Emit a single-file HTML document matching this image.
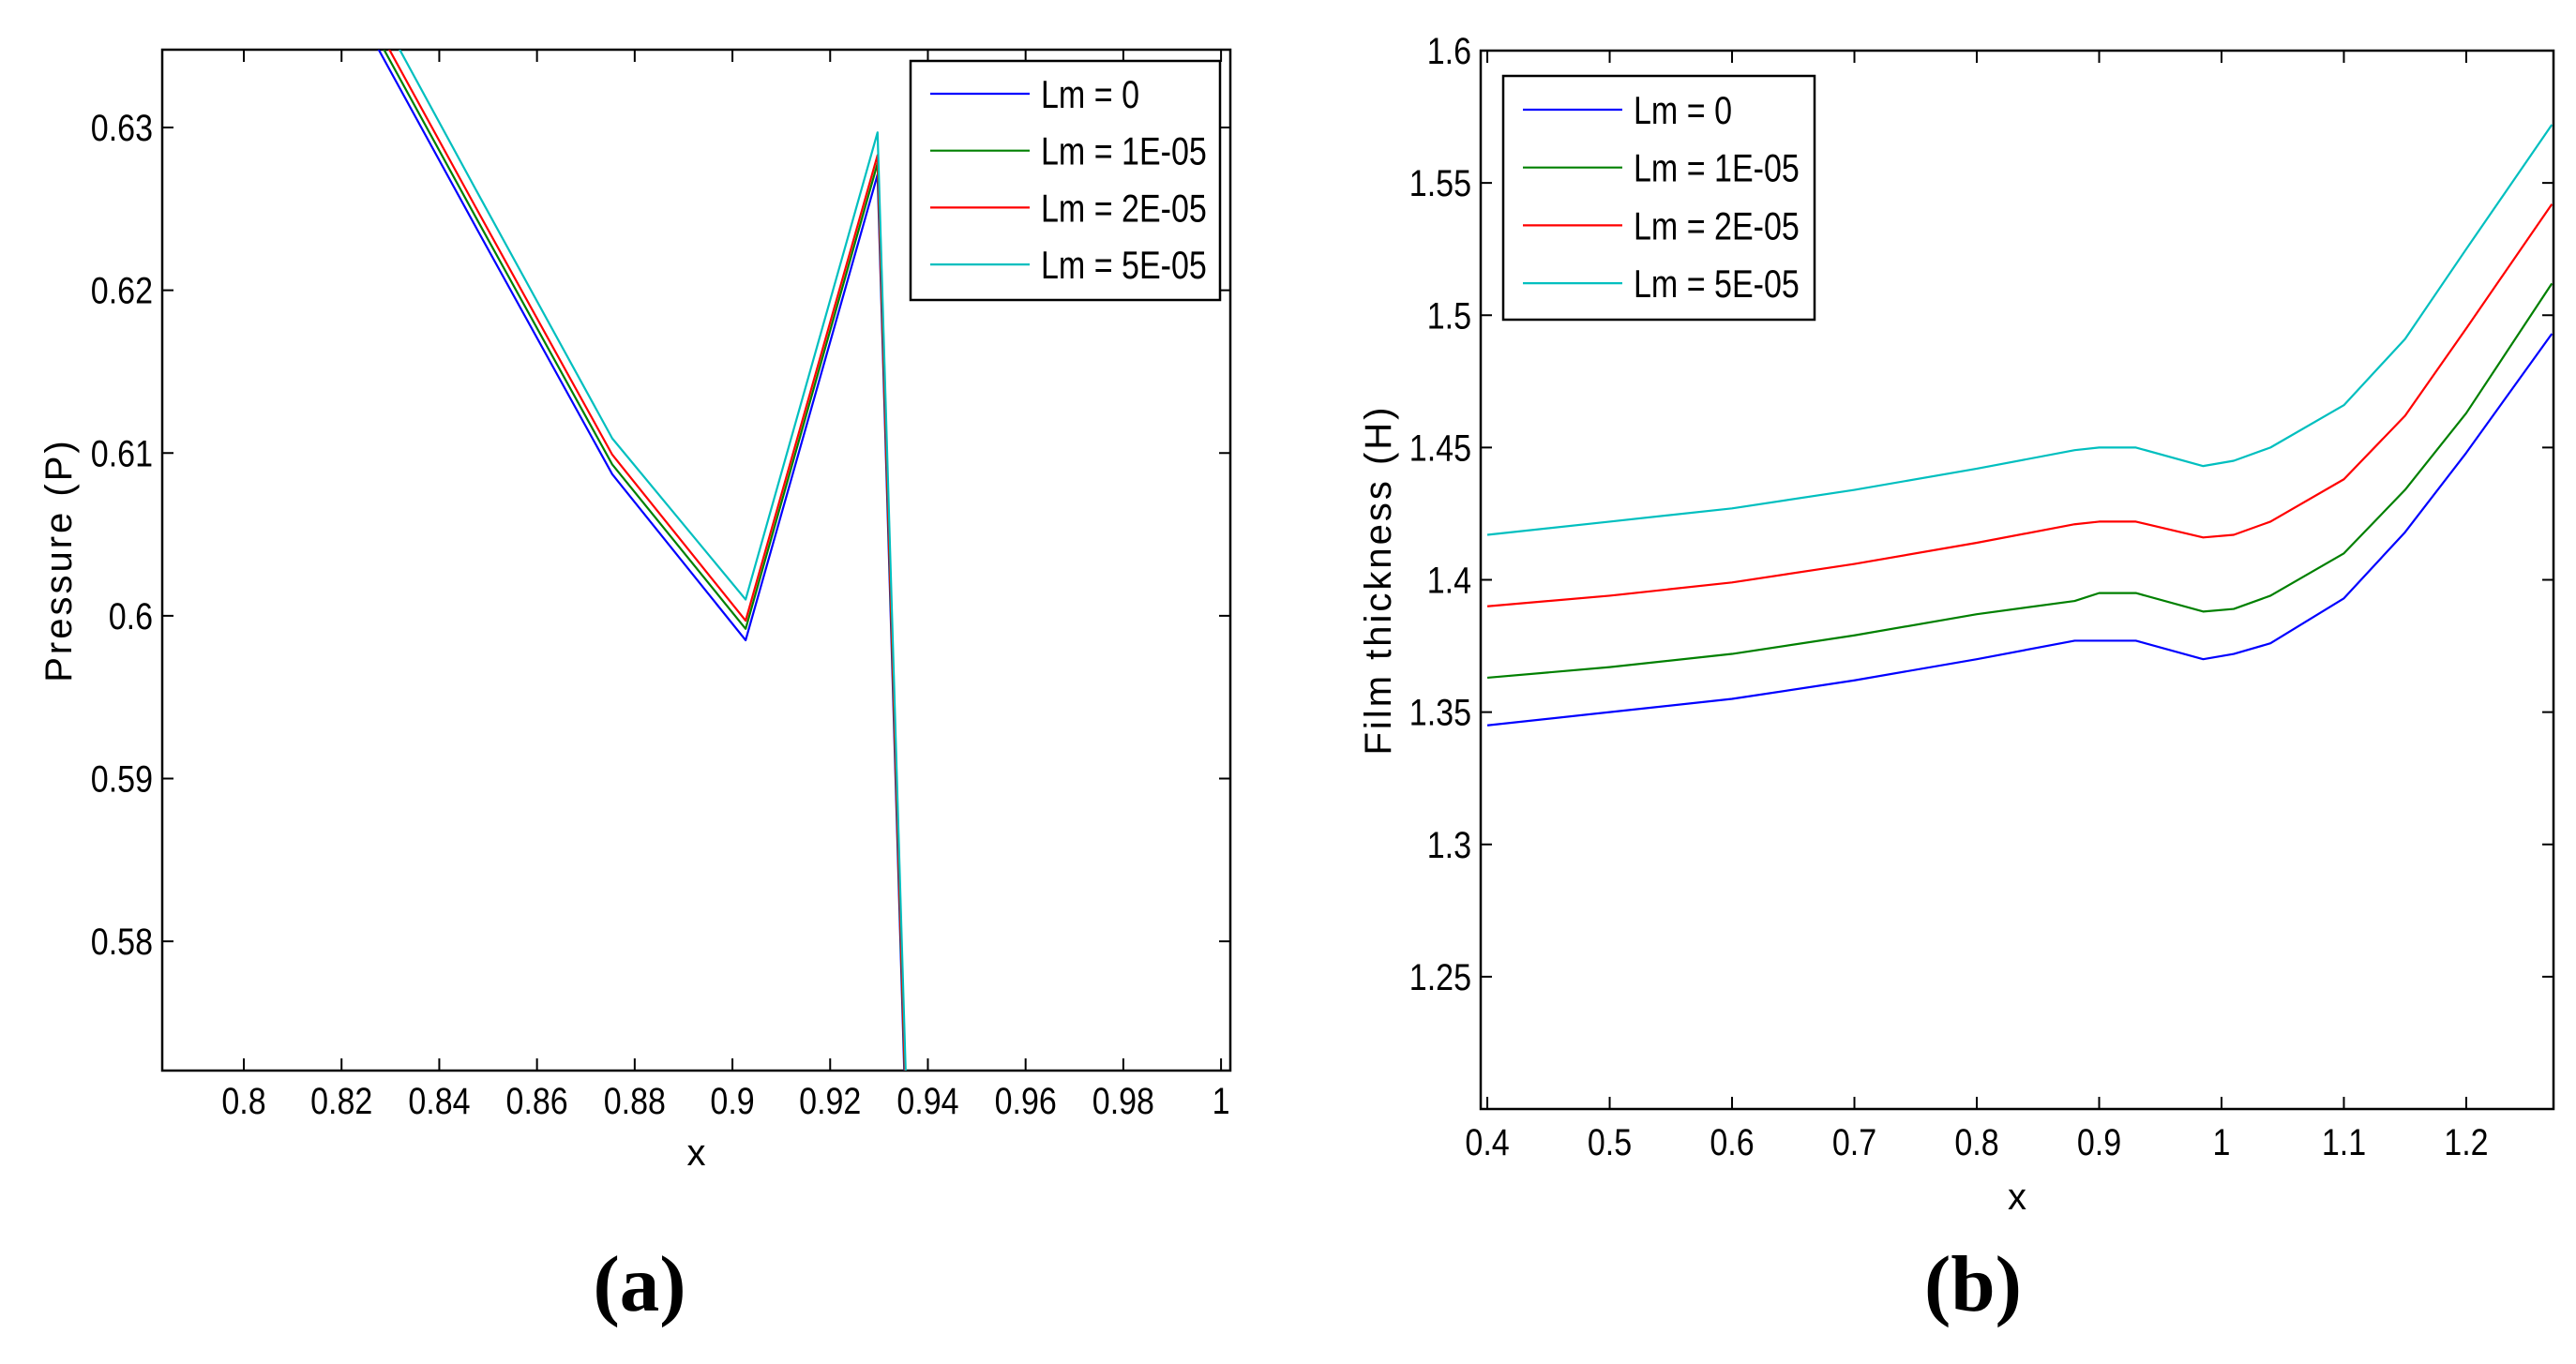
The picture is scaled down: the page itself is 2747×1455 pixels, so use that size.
<!DOCTYPE html>
<html><head><meta charset="utf-8">
<style>
html,body{margin:0;padding:0;background:#fff;overflow:hidden;width:2747px;height:1455px;}
svg{display:block;font-family:"Liberation Sans",sans-serif;}
</style></head>
<body>
<svg id="fig" width="2747" height="1455" viewBox="0 0 2747 1455" xmlns="http://www.w3.org/2000/svg">
<defs>
<clipPath id="clipA"><rect x="173" y="53" width="1139" height="1089"/></clipPath>
<clipPath id="clipB"><rect x="1579" y="54" width="1144" height="1129"/></clipPath>
</defs>
<g id="panelA"></g>
<g id="panelB"></g>
<text x="682" y="1398" font-family="Liberation Serif,serif" font-size="85" font-weight="bold" text-anchor="middle">(a)</text>
<text x="2104" y="1398" font-family="Liberation Serif,serif" font-size="85" font-weight="bold" text-anchor="middle">(b)</text>
</svg>
<script>
const seriesNames = ["Lm = 0","Lm = 1E-05","Lm = 2E-05","Lm = 5E-05"];
const seriesColors = ["#0000ff","#008000","#ff0000","#00bfbf"];

// Panel (a)
const aX = [0.821,0.848,0.8754,0.9027,0.9297,0.957];
const aBlue  = [0.6384,0.6236,0.6087,0.5985,0.6271,0.352];
const aGreen = [0.6390,0.6242,0.6093,0.5992,0.6278,0.353];
const aRed   = [0.6396,0.6248,0.6099,0.5997,0.6283,0.354];
const aCyan  = [0.6408,0.6259,0.6109,0.6010,0.6297,0.356];
const aXTicks = [0.8,0.82,0.84,0.86,0.88,0.9,0.92,0.94,0.96,0.98,1];
const aYTicks = [0.58,0.59,0.6,0.61,0.62,0.63];

// Panel (b)
const bX = [0.4,0.5,0.6,0.7,0.8,0.88,0.9,0.93,0.985,1.01,1.04,1.1,1.15,1.2,1.27];
const bBlue  = [1.345,1.350,1.355,1.362,1.370,1.377,1.377,1.377,1.370,1.372,1.376,1.393,1.418,1.448,1.493];
const bGreen = [1.363,1.367,1.372,1.379,1.387,1.392,1.395,1.395,1.388,1.389,1.394,1.410,1.434,1.463,1.512];
const bRed   = [1.390,1.394,1.399,1.406,1.414,1.421,1.422,1.422,1.416,1.417,1.422,1.438,1.462,1.495,1.542];
const bCyan  = [1.417,1.422,1.427,1.434,1.442,1.449,1.450,1.450,1.443,1.445,1.450,1.466,1.491,1.525,1.572];
const bXTicks = [0.4,0.5,0.6,0.7,0.8,0.9,1,1.1,1.2];
const bYTicks = [1.25,1.3,1.35,1.4,1.45,1.5,1.55,1.6];

const NS="http://www.w3.org/2000/svg";
function mk(tag, attrs, parent){const e=document.createElementNS(NS,tag);for(const k in attrs)e.setAttribute(k,attrs[k]);parent.appendChild(e);return e;}
function squeeze(t,f){const w=t.getComputedTextLength();t.setAttribute('textLength',(w*f).toFixed(1));t.setAttribute('lengthAdjust','spacingAndGlyphs');}

function drawPanel(g, cfg){
  const {L,R,T,B,xmin,xmax,ymin,ymax,xs,ys,xt,yt,clip,xlab,ylab,ylabX,xlabY,xtY,leg} = cfg;
  const sx=v=>L+(v-xmin)/(xmax-xmin)*(R-L);
  const sy=v=>B-(v-ymin)/(ymax-ymin)*(B-T);
  const frame=mk('rect',{x:L,y:T,width:R-L,height:B-T,fill:'none',stroke:'#000','stroke-width':2.5},g);
  
  
  xt.forEach(v=>{
    const x=sx(v);
    mk('line',{x1:x,y1:B,x2:x,y2:B-13,stroke:'#000','stroke-width':2},g);
    mk('line',{x1:x,y1:T,x2:x,y2:T+13,stroke:'#000','stroke-width':2},g);
    const t=mk('text',{x:x,y:xtY,'font-size':40,'text-anchor':'middle'},g);
    t.textContent=String(v);
    
    
    squeeze(t,0.85);
  });
  yt.forEach(v=>{
    const y=sy(v);
    mk('line',{x1:L,y1:y,x2:L+12,y2:y,stroke:'#000','stroke-width':2},g);
    mk('line',{x1:R,y1:y,x2:R-12,y2:y,stroke:'#000','stroke-width':2},g);
    const t=mk('text',{x:L-10,y:y+14,'font-size':40,'text-anchor':'end'},g);
    t.textContent=String(v);
    
    
    squeeze(t,0.85);
  });
  const lg=mk('g',{'clip-path':'url(#'+clip+')'},g);
  ys.forEach((arr,i)=>{
    const d=arr.map((v,j)=>(j?'L':'M')+sx(xs[j]).toFixed(2)+','+sy(v).toFixed(2)).join(' ');
    const p=mk('path',{d:d,fill:'none',stroke:seriesColors[i],'stroke-width':2.2,'stroke-linejoin':'round'},lg);
    
    
  });
  const xl=mk('text',{x:(L+R)/2,y:xlabY,'font-size':40,'text-anchor':'middle'},g);
  xl.textContent=xlab;
  
  
  const yl=mk('text',{x:0,y:0,'font-size':40,'text-anchor':'middle','letter-spacing':'3',transform:'translate('+ylabX+','+((T+B)/2)+') rotate(-90)'},g);
  yl.textContent=ylab;
  
  
  const lgd=mk('g',{},g);
  
  
  mk('rect',{x:leg.x,y:leg.y,width:leg.w,height:leg.h,fill:'#fff',stroke:'#000','stroke-width':2.5},lgd);
  seriesNames.forEach((n,i)=>{
    const y=leg.y+leg.first+i*leg.gap;
    mk('line',{x1:leg.x+21,y1:y,x2:leg.x+127,y2:y,stroke:seriesColors[i],'stroke-width':2.2},lgd);
    const t=mk('text',{x:leg.x+139,y:y+15,'font-size':42},lgd);
    t.textContent=n;
    
    
    squeeze(t,0.81);
  });
}

drawPanel(document.getElementById('panelA'),{L:173,R:1312,T:53,B:1142,xmin:0.7833,xmax:1.0019,ymin:0.57206,ymax:0.63478,
  xs:aX,ys:[aBlue,aGreen,aRed,aCyan],xt:aXTicks,yt:aYTicks,clip:'clipA',xlab:'x',ylab:'Pressure (P)',ylabX:76,xlabY:1243,xtY:1188,
  leg:{x:971,y:65,w:330,h:255,first:35,gap:60.7}});
drawPanel(document.getElementById('panelB'),{L:1579,R:2723,T:54,B:1183,xmin:0.3946,xmax:1.2713,ymin:1.2,ymax:1.6,
  xs:bX,ys:[bBlue,bGreen,bRed,bCyan],xt:bXTicks,yt:bYTicks,clip:'clipB',xlab:'x',ylab:'Film thickness (H)',ylabX:1483,xlabY:1290,xtY:1232,
  leg:{x:1603,y:81,w:332,h:260,first:36,gap:61.7}});
</script>
</body></html>
